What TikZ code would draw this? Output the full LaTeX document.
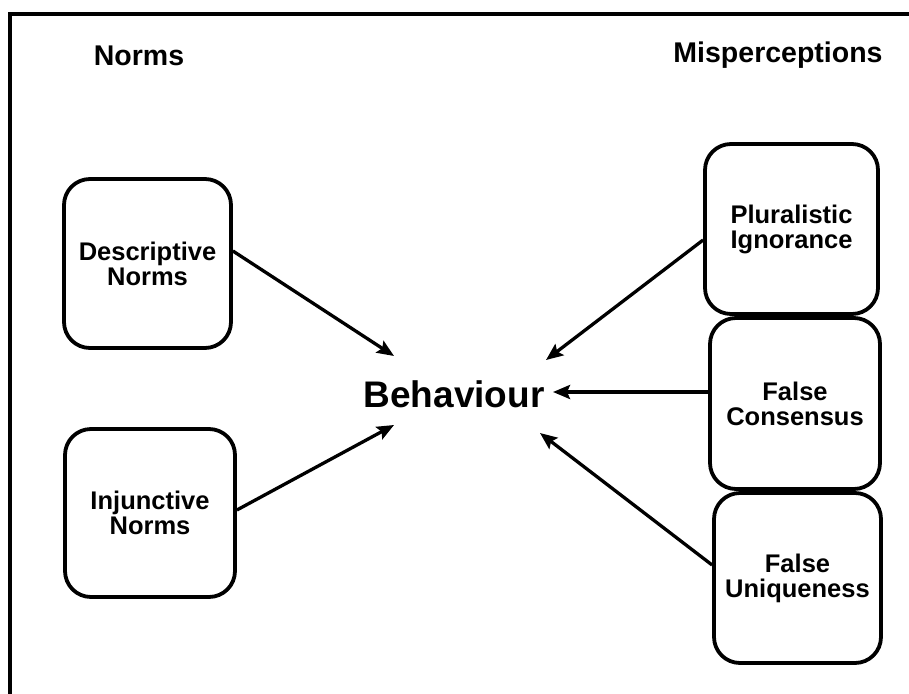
\documentclass[tikz,border=0pt]{standalone}
\usepackage{fontspec}
\setmainfont{Liberation Sans}
\usetikzlibrary{arrows.meta}
\begin{document}
\begin{tikzpicture}[x=1pt,y=-1pt,
  concept/.style={draw, line width=3.8pt, rounded corners=26pt, align=center,
    font=\bfseries\fontsize{25.5}{25}\selectfont, inner sep=0pt},
  heading/.style={font=\bfseries\fontsize{28.5}{30}\selectfont, anchor=base, inner sep=0pt},
  link/.style={line width=3.3pt, -{Stealth[length=17pt,width=14pt,inset=3pt]}}]
\useasboundingbox (0,0) rectangle (909,693);
% outer frame (runs off the right and bottom edges)
\draw[line width=4pt] (10,710) -- (10,14) -- (925,14);

% column headings
\node[heading] (normsT) at (139,65) {Norms};
\node[heading] (misT) at (778,63) {Misperceptions};

% centre
\node[font=\bfseries\fontsize{37}{40}\selectfont, anchor=base, inner sep=0pt] (beh) at (454,407) {Behaviour};

% norms
\node[concept, minimum width=167pt, minimum height=169pt] (desc) at (147.5,263.5) {Descriptive\\Norms};
\node[concept, minimum width=170pt, minimum height=168pt] (inj) at (150,513) {Injunctive\\Norms};

% misperceptions (stacked, borders touching)
\node[concept, minimum width=173pt, minimum height=170pt] (pi) at (791.5,229) {Pluralistic\\Ignorance};
\node[concept, minimum width=170pt, minimum height=171pt] (fc) at (795,403.5) {False\\Consensus};
\node[concept, minimum width=167pt, minimum height=170pt] (fu) at (797.5,578) {False\\Uniqueness};

% arrow tips around the centre label
\coordinate (tDesc) at (394,356);
\coordinate (tInj) at (394,425);
\coordinate (tPi) at (546,360);
\coordinate (tFc) at (553,392);
\coordinate (tFu) at (540,433);

\draw[link] ([yshift=12.5pt]desc.east) -- (tDesc);
\draw[link] ([yshift=3pt]inj.east) -- (tInj);
\draw[link] ([yshift=-11pt]pi.west) -- (tPi);
\draw[link] ([yshift=11.5pt]fc.west) -- (tFc);
\draw[link] ([yshift=13pt]fu.west) -- (tFu);
\end{tikzpicture}
\end{document}
